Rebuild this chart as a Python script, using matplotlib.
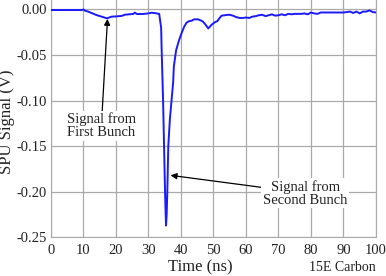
import matplotlib
matplotlib.use("Agg")
import matplotlib.pyplot as plt

# SPU signal trace
time_ns = [0, 5, 9.5, 10.0, 10.5, 11.5, 14, 16, 17.2, 18.7, 20, 21.7, 22.8, 25.3, 25.8, 26.5,
           28.4, 29.9, 31, 32.5, 33.3, 33.9, 34.1, 34.5, 34.8, 35.1, 35.4, 35.6, 35.8, 36.1,
           36.6, 37.1, 37.6, 37.8, 38.5, 39.4, 40.2, 41, 41.7, 42.5, 43.3, 44, 45.2, 46,
           46.8, 47.6, 48.4, 49.4, 50.5, 51.2, 52, 52.5, 53.5, 54.5, 55, 56, 57, 58, 59, 60,
           61, 62, 63, 64, 65, 66, 67, 68, 69, 70, 71, 72, 73, 74, 75, 76, 77, 78, 79, 80,
           81, 82, 83, 85, 88, 90, 91, 92, 93, 94, 95, 96, 97, 98, 99, 100]
signal_v = [-0.0008, -0.0008, -0.0008, -0.0002, -0.0015, -0.0026, -0.0063, -0.0085, -0.0099,
            -0.008, -0.0078, -0.0073, -0.0059, -0.0051, -0.0037, -0.0052, -0.0051, -0.0045,
            -0.0037, -0.0045, -0.005, -0.02, -0.05, -0.10, -0.15, -0.20, -0.237, -0.225,
            -0.20, -0.15, -0.12, -0.10, -0.08, -0.063, -0.045, -0.034, -0.026, -0.019, -0.0147,
            -0.013, -0.0125, -0.011, -0.011, -0.012, -0.0136, -0.017, -0.021, -0.017, -0.014,
            -0.013, -0.009, -0.007, -0.0065, -0.006, -0.006, -0.007, -0.0085, -0.0095, -0.0095,
            -0.009, -0.0095, -0.008, -0.0075, -0.0065, -0.006, -0.0075, -0.0065, -0.0055,
            -0.007, -0.0065, -0.0055, -0.0065, -0.005, -0.0055, -0.005, -0.005, -0.005,
            -0.0045, -0.0055, -0.0035, -0.0045, -0.005, -0.0035, -0.0035, -0.0035, -0.0035,
            -0.003, -0.0025, -0.004, -0.0025, -0.0045, -0.0025, -0.0025, -0.0012, -0.003,
            -0.0035]

x_ticks = [0, 10, 20, 30, 40, 50, 60, 70, 80, 90, 100]
y_ticks = [0.00, -0.05, -0.10, -0.15, -0.20, -0.25]
y_tick_labels = ["0.00", "-0.05", "-0.10", "-0.15", "-0.20", "-0.25"]

plt.rcParams["font.family"] = ["Liberation Serif", "DejaVu Serif"]
grid_col = "#aaaaaa"
text_col = "#222222"

fig = plt.figure(figsize=(3.86, 2.76), dpi=100)
ax = fig.add_axes([0.132, 0.140, 0.842, 0.860])

ax.plot(time_ns, signal_v, color="#1a1aff", lw=1.4, zorder=3)

ax.set_xlim(0, 100)
ax.set_ylim(-0.25, 0.0102)
ax.set_xticks(x_ticks)
ax.set_yticks(y_ticks)
ax.set_yticklabels(y_tick_labels)
ax.tick_params(length=0, labelsize=10.5, colors=text_col)
ax.tick_params(axis="x", pad=5)
ax.tick_params(axis="y", pad=3)
ax.grid(True, color=grid_col, lw=0.9)
ax.spines["top"].set_visible(False)
for s in ["left", "bottom", "right"]:
    ax.spines[s].set_color(grid_col)

ax.annotate("Signal from\nFirst Bunch", xy=(17.4, -0.0105), xytext=(15.5, -0.128),
            ha="center", va="center", fontsize=10.5, color=text_col, linespacing=1.0,
            arrowprops=dict(arrowstyle="-|>", color="black", lw=0.9,
                            shrinkA=0, shrinkB=0, mutation_scale=9),
            bbox=dict(facecolor="white", edgecolor="none", pad=1), zorder=4)
ax.annotate("Signal from\nSecond Bunch", xy=(36.8, -0.182), xytext=(78.2, -0.2015),
            ha="center", va="center", fontsize=10.5, color=text_col, linespacing=1.0,
            arrowprops=dict(arrowstyle="-|>", color="black", lw=0.9,
                            shrinkA=0, shrinkB=0, mutation_scale=9),
            bbox=dict(facecolor="white", edgecolor="none", pad=1), zorder=4)

fig.text(0.52, 0.030, "Time (ns)", ha="center", va="center", fontsize=12, color=text_col)
fig.text(0.017, 0.558, "SPU Signal (V)", ha="center", va="center", rotation=90,
         fontsize=12, color=text_col)
fig.text(0.974, 0.030, "15E Carbon", ha="right", va="center", fontsize=10, color=text_col)

fig.savefig("out.png", dpi=100)
